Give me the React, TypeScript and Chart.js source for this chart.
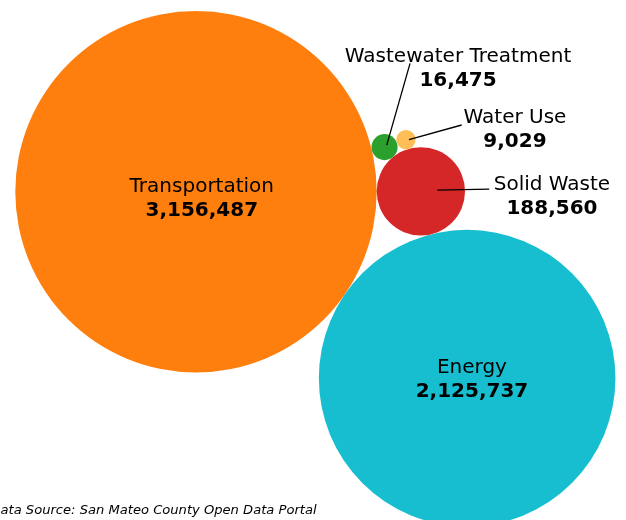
import React, { useEffect, useRef } from "react";
import { Chart, registerables } from "chart.js";

Chart.register(...registerables);

// ---- data ----
const categories = ["Transportation", "Energy", "Solid Waste", "Wastewater Treatment", "Water Use"];
const emissions = [3156487, 2125737, 188560, 16475, 9029];
const colors = ["#ff7f0e", "#17becf", "#d62728", "#2ca02c", "#ffbf56"];
const sourceNote = "Data Source: San Mateo County Open Data Portal";

// ---- layout (not data) ----
const W = 626;
const H = 520;
const RADIUS_PER_SQRT = 0.10171; // bubble area proportional to value
const FIRST_CENTER = { x: 196, y: 191.8 };
const SECOND_ANGLE = (34.5 * Math.PI) / 180;
// each later bubble is tangent to two earlier ones: [indexA, indexB, side]
const TANGENT_TO: Array<[number, number, number]> = [
  [0, 1, -1],
  [0, 2, -1],
  [3, 2, -1],
];
type LabelCfg =
  | { kind: "inside"; dx: number; dy: number }
  | { kind: "outside"; dx: number; dy: number; sx: number; sy: number; ex: number; ey: number };
const LABELS: LabelCfg[] = [
  { kind: "inside", dx: 5.8, dy: 0.5 },
  { kind: "inside", dx: 4.8, dy: -5.6 },
  { kind: "outside", dx: 131.1, dy: -1.3, sx: 16.4, sy: -1.3, ex: 68.4, ey: -2.3 },
  { kind: "outside", dx: 73.5, dy: -84.7, sx: 2.2, sy: -2, ex: 25.5, ey: -83.7 },
  { kind: "outside", dx: 109, dy: -16.3, sx: 3, sy: 0, ex: 55.7, ey: -14.6 },
];
const FONT = '"DejaVu Sans", Verdana, sans-serif';

function packBubbles(values: number[]) {
  const r = values.map((v) => Math.sqrt(v) * RADIUS_PER_SQRT);
  const pts: { x: number; y: number; r: number }[] = [];
  pts[0] = { x: FIRST_CENTER.x, y: FIRST_CENTER.y, r: r[0] };
  const d01 = r[0] + r[1];
  pts[1] = {
    x: FIRST_CENTER.x + d01 * Math.cos(SECOND_ANGLE),
    y: FIRST_CENTER.y + d01 * Math.sin(SECOND_ANGLE),
    r: r[1],
  };
  for (let i = 2; i < values.length; i++) {
    const [ia, ib, side] = TANGENT_TO[i - 2];
    const a = pts[ia];
    const b = pts[ib];
    const dx = b.x - a.x;
    const dy = b.y - a.y;
    const d = Math.sqrt(dx * dx + dy * dy);
    const ux = dx / d;
    const uy = dy / d;
    const nx = -uy;
    const ny = ux;
    const ra = a.r + r[i];
    const rb = b.r + r[i];
    const along = (d * d + ra * ra - rb * rb) / (2 * d);
    const h = Math.sqrt(Math.max(0, ra * ra - along * along));
    pts[i] = {
      x: a.x + along * ux + side * h * nx,
      y: a.y + along * uy + side * h * ny,
      r: r[i],
    };
  }
  return pts;
}

const labelPlugin = {
  id: "bubbleLabels",
  afterDatasetsDraw(chart: any) {
    const ctx = chart.ctx as CanvasRenderingContext2D;
    const meta = chart.getDatasetMeta(0);
    ctx.save();
    ctx.textAlign = "center";
    ctx.textBaseline = "alphabetic";
    meta.data.forEach((el: any, i: number) => {
      const cfg = LABELS[i];
      const cx = el.x;
      const cy = el.y;
      if (cfg.kind === "outside") {
        ctx.strokeStyle = "#000";
        ctx.lineWidth = 1.3;
        ctx.beginPath();
        ctx.moveTo(cx + cfg.sx, cy + cfg.sy);
        ctx.lineTo(cx + cfg.ex, cy + cfg.ey);
        ctx.stroke();
      }
      const lx = cx + cfg.dx;
      const ly = cy + cfg.dy;
      ctx.fillStyle = "#000";
      ctx.font = `20px ${FONT}`;
      ctx.fillText(categories[i], lx, ly);
      ctx.font = `bold 20px ${FONT}`;
      ctx.fillText(emissions[i].toLocaleString("en-US"), lx, ly + 24);
    });
    // source note
    ctx.textAlign = "left";
    ctx.font = `italic 13.1px ${FONT}`;
    ctx.fillStyle = "#000";
    ctx.fillText(sourceNote, -9.6, 514.3);
    ctx.restore();
  },
};

export default function App() {
  const canvasRef = useRef<HTMLCanvasElement | null>(null);

  useEffect(() => {
    if (!canvasRef.current) return;
    const pts = packBubbles(emissions);
    const chart = new Chart(canvasRef.current, {
      type: "bubble",
      data: {
        labels: categories,
        datasets: [
          {
            label: "Emissions",
            data: pts.map((p) => ({ x: p.x, y: p.y, r: p.r })),
            backgroundColor: colors,
            borderWidth: 0,
            hoverBorderWidth: 0,
            hoverRadius: 0,
            clip: false as any,
          },
        ],
      },
      options: {
        animation: false,
        responsive: false,
        maintainAspectRatio: false,
        layout: { padding: 0, autoPadding: false },
        events: [],
        plugins: {
          legend: { display: false },
          tooltip: { enabled: false },
          title: { display: false },
        },
        scales: {
          x: { type: "linear", min: 0, max: W, display: false },
          y: { type: "linear", min: 0, max: H, reverse: true, display: false },
        },
      },
      plugins: [labelPlugin],
    });
    return () => chart.destroy();
  }, []);

  return (
    <div style={{ position: "absolute", left: 0, top: 0, width: W, height: H }}>
      <canvas ref={canvasRef} width={W} height={H} style={{ display: "block" }} />
    </div>
  );
}
